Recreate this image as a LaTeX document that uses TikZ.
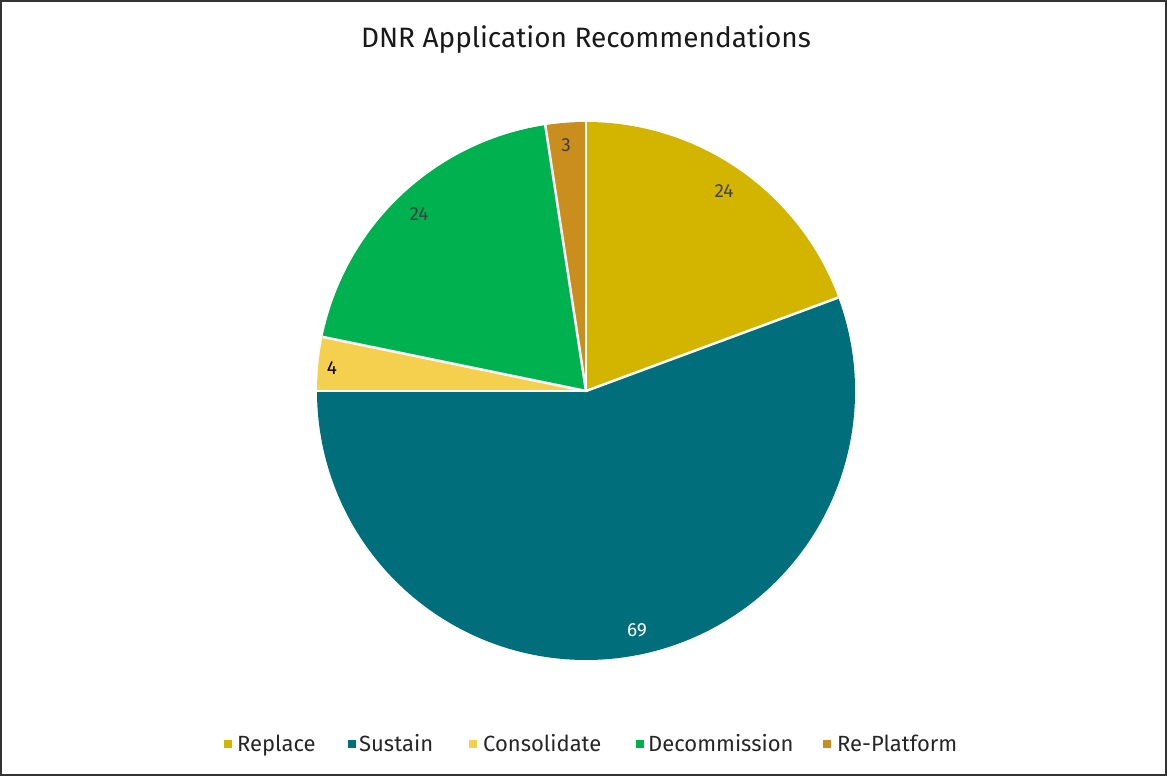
\documentclass[tikz,border=0pt]{standalone}
\usepackage{fontspec}
\setmainfont{Fira Sans}
\definecolor{creplace}{HTML}{D3B500}
\definecolor{csustain}{HTML}{006F7B}
\definecolor{cconsol}{HTML}{F5D04E}
\definecolor{cdecom}{HTML}{00B24F}
\definecolor{creplat}{HTML}{C98E1E}
\definecolor{ctxt}{HTML}{404040}
\tikzset{
  slice/.style={draw=white,line width=2.5pt,line join=round},
  vlabel/.style={font=\fontsize{19}{21}\selectfont,text=ctxt,inner sep=0pt},
  legsq/.style={minimum size=8pt,inner sep=0pt},
  legtxt/.style={font=\fontsize{22}{24}\selectfont,text=black!85,anchor=base west,inner sep=0pt}
}
\begin{document}
\begin{tikzpicture}[x=1pt,y=-1pt]
\useasboundingbox (0,0) rectangle (1168,777);
\draw[black!80,line width=1.5pt] (1,1) rectangle (1166,775);
\coordinate (c) at (586,391);
\def\R{269}
\fill[creplace] (c) -- ++(-90:\R) arc[start angle=-90,end angle=-20.32,radius=\R] -- cycle;
\fill[csustain] (c) -- ++(-20.32:\R) arc[start angle=-20.32,end angle=180,radius=\R] -- cycle;
\fill[cconsol] (c) -- ++(180:\R) arc[start angle=180,end angle=191.61,radius=\R] -- cycle;
\fill[cdecom] (c) -- ++(191.61:\R) arc[start angle=191.61,end angle=261.29,radius=\R] -- cycle;
\fill[creplat] (c) -- ++(261.29:\R) arc[start angle=261.29,end angle=270,radius=\R] -- cycle;
\foreach \a in {-90,-20.32,180,191.61,261.29}
  \draw[white,line width=2.5pt] (c) -- ++(\a:\R);
\node[vlabel] (l1) at (724,191) {24};
\node[vlabel,text=white] (l2) at (637,630) {69};
\node[vlabel,text=black] (l3) at (332,368) {4};
\node[vlabel] (l4) at (419,214) {24};
\node[vlabel] (l5) at (566,145) {3};
\node[font=\fontsize{28}{32}\selectfont,text=black!90] (title) at (586,40) {DNR Application Recommendations};
\node[legsq,fill=creplace] (s1) at (228,744) {};
\node[legtxt] (t1) at (237,751) {Replace};
\node[legsq,fill=csustain] (s2) at (352,744) {};
\node[legtxt] (t2) at (359,751) {Sustain};
\node[legsq,fill=cconsol] (s3) at (473,744) {};
\node[legtxt] (t3) at (483,751) {Consolidate};
\node[legsq,fill=cdecom] (s4) at (640,744) {};
\node[legtxt] (t4) at (648,751) {Decommission};
\node[legsq,fill=creplat] (s5) at (827,744) {};
\node[legtxt] (t5) at (837,751) {Re-Platform};
\end{tikzpicture}
\end{document}
